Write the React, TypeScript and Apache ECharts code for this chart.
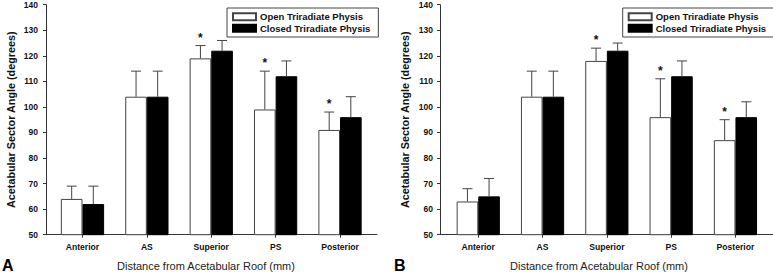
import React, { useEffect, useRef } from "react";
import * as echarts from "echarts";

const categories = ["Anterior", "AS", "Superior", "PS", "Posterior"];
const seriesNames = ["Open Triradiate Physis", "Closed Triradiate Physis"];

// Panel A
const openA = [64, 104, 119, 99, 91];
const openAErr = [69, 114, 124, 114, 98];
const closedA = [62, 104, 122, 112, 96];
const closedAErr = [69, 114, 126, 118, 104];
const starsA = [0, 0, 1, 1, 1];

// Panel B
const openB = [63, 104, 118, 96, 87];
const openBErr = [68, 114, 123, 111, 95];
const closedB = [65, 104, 122, 112, 96];
const closedBErr = [72, 114, 125, 118, 102];
const starsB = [0, 0, 1, 1, 1];

const yMin = 50;
const yMax = 140;
const yInterval = 10;

const xTitle = "Distance from Acetabular Roof (mm)";
const yTitle = "Acetabular Sector Angle (degrees)";
const panelLetters = ["A", "B"];

const FONT = 'Arial, "Liberation Sans", sans-serif';
const AXIS_COLOR = "#333";
const TEXT_COLOR = "#111";

const BAR_FRAC = 0.336;

function errSeries(
  name: string,
  xIdx: number,
  yIdx: number,
  vals: number[],
  errs: number[],
  stars: number[],
  side: number
) {
  return {
    type: "custom",
    name: name + " err",
    xAxisIndex: xIdx,
    yAxisIndex: yIdx,
    silent: true,
    z: 5,
    data: vals.map((v, i) => [i, v, errs[i], stars[i]]),
    renderItem: (params: any, api: any) => {
      const i = api.value(0);
      const v = api.value(1);
      const e = api.value(2);
      const s = api.value(3);
      const w = api.size([1, 0])[0];
      const base = api.coord([i, v]);
      const top = api.coord([i, e]);
      const cx = base[0] + side * w * BAR_FRAC * 0.5;
      const children: any[] = [
        {
          type: "line",
          shape: { x1: cx, y1: base[1], x2: cx, y2: top[1] },
          style: { stroke: "#444", lineWidth: 1 },
        },
        {
          type: "line",
          shape: { x1: cx - 5, y1: top[1], x2: cx + 5, y2: top[1] },
          style: { stroke: "#444", lineWidth: 1 },
        },
      ];
      if (s) {
        children.push({
          type: "text",
          x: cx,
          y: top[1] - 8,
          style: {
            text: "*",
            fill: TEXT_COLOR,
            font: `bold 12px ${FONT}`,
            align: "center",
            verticalAlign: "middle",
          },
        });
      }
      return { type: "group", children };
    },
  };
}

function barSeries(name: string, xIdx: number, yIdx: number, vals: number[], open: boolean) {
  return {
    type: "bar",
    name,
    xAxisIndex: xIdx,
    yAxisIndex: yIdx,
    data: vals,
    barGap: "0%",
    barCategoryGap: "32.8%",
    itemStyle: open
      ? { color: "#fff", borderColor: "#444", borderWidth: 1 }
      : { color: "#000", borderColor: "#000", borderWidth: 1 },
  };
}

export default function App() {
  const ref = useRef<HTMLDivElement>(null);

  useEffect(() => {
    if (!ref.current) return;
    const chart = echarts.init(ref.current, undefined, { renderer: "svg" });

    const panels = [
      { axisLeft: 46, axisWidth: 331, barLeft: 50.3, barWidth: 321.9, legendLeft: 227, nameX: 206, letterX: 2 },
      { axisLeft: 440, axisWidth: 333, barLeft: 446.1, barWidth: 321.5, legendLeft: 622.7, nameX: 599, letterX: 394 },
    ];
    const top = 4.7;
    const height = 230;

    const grid: any[] = [];
    const xAxis: any[] = [];
    const yAxis: any[] = [];
    const legend: any[] = [];
    const graphic: any[] = [];

    panels.forEach((p, k) => {
      grid.push({ left: p.axisLeft, top, width: p.axisWidth, height });
      grid.push({ left: p.barLeft, top, width: p.barWidth, height });
      const g0 = k * 2;
      const g1 = k * 2 + 1;
      xAxis.push({
        type: "value",
        gridIndex: g0,
        min: 0,
        max: 1,
        axisLine: { show: true, lineStyle: { color: AXIS_COLOR, width: 1 } },
        axisTick: { show: false },
        axisLabel: { show: false },
        splitLine: { show: false },
      });
      xAxis.push({
        type: "category",
        gridIndex: g1,
        data: categories,
        axisLine: { show: false },
        axisTick: { show: true, alignWithLabel: true, length: 3, lineStyle: { color: AXIS_COLOR } },
        axisLabel: {
          margin: 8,
          color: TEXT_COLOR,
          fontFamily: FONT,
          fontWeight: "bold",
          fontSize: 8.6,
        },
      });
      yAxis.push({
        type: "value",
        gridIndex: g0,
        min: yMin,
        max: yMax,
        interval: yInterval,
        name: yTitle,
        nameLocation: "middle",
        nameGap: 30,
        nameTextStyle: { color: TEXT_COLOR, fontFamily: FONT, fontWeight: "bold", fontSize: 10.8 },
        axisLine: { show: true, lineStyle: { color: AXIS_COLOR, width: 1 } },
        axisTick: { show: true, length: 3, lineStyle: { color: AXIS_COLOR } },
        axisLabel: {
          margin: k === 0 ? 8 : 7,
          color: TEXT_COLOR,
          fontFamily: FONT,
          fontWeight: "bold",
          fontSize: 8.5,
        },
        splitLine: { show: false },
      });
      yAxis.push({
        type: "value",
        gridIndex: g1,
        min: yMin,
        max: yMax,
        interval: yInterval,
        show: false,
      });
      legend.push({
        data: seriesNames,
        orient: "vertical",
        left: p.legendLeft,
        top: 8,
        padding: [3, 8, 3, 5],
        itemGap: 0,
        itemWidth: 23,
        itemHeight: 7,
        borderColor: "#444",
        borderWidth: 1,
        selectedMode: false,
        icon: "rect",
        textStyle: {
          color: TEXT_COLOR,
          fontFamily: FONT,
          fontWeight: "bold",
          fontSize: 9.5,
          lineHeight: 11.5,
          padding: [0, 0, 0, -1],
        },
      });
      graphic.push({
        type: "text",
        left: p.nameX - 89,
        top: 260,
        style: { text: xTitle, fill: "#222", font: `11px ${FONT}` },
      });
      graphic.push({
        type: "text",
        left: p.letterX,
        top: 257,
        style: { text: panelLetters[k], fill: "#000", font: `bold 16px ${FONT}` },
      });
    });

    const series: any[] = [
      barSeries(seriesNames[0], 1, 1, openA, true),
      barSeries(seriesNames[1], 1, 1, closedA, false),
      errSeries(seriesNames[0], 1, 1, openA, openAErr, starsA, -1),
      errSeries(seriesNames[1], 1, 1, closedA, closedAErr, [0, 0, 0, 0, 0], 1),
      barSeries(seriesNames[0], 3, 3, openB, true),
      barSeries(seriesNames[1], 3, 3, closedB, false),
      errSeries(seriesNames[0], 3, 3, openB, openBErr, starsB, -1),
      errSeries(seriesNames[1], 3, 3, closedB, closedBErr, [0, 0, 0, 0, 0], 1),
    ];

    chart.setOption({
      animation: false,
      backgroundColor: "#fff",
      textStyle: { fontFamily: FONT },
      grid,
      xAxis,
      yAxis,
      legend,
      graphic,
      series,
    });

    return () => chart.dispose();
  }, []);

  return (
    <div
      ref={ref}
      style={{ position: "fixed", left: 0, top: 0, width: 773, height: 272 }}
    />
  );
}
